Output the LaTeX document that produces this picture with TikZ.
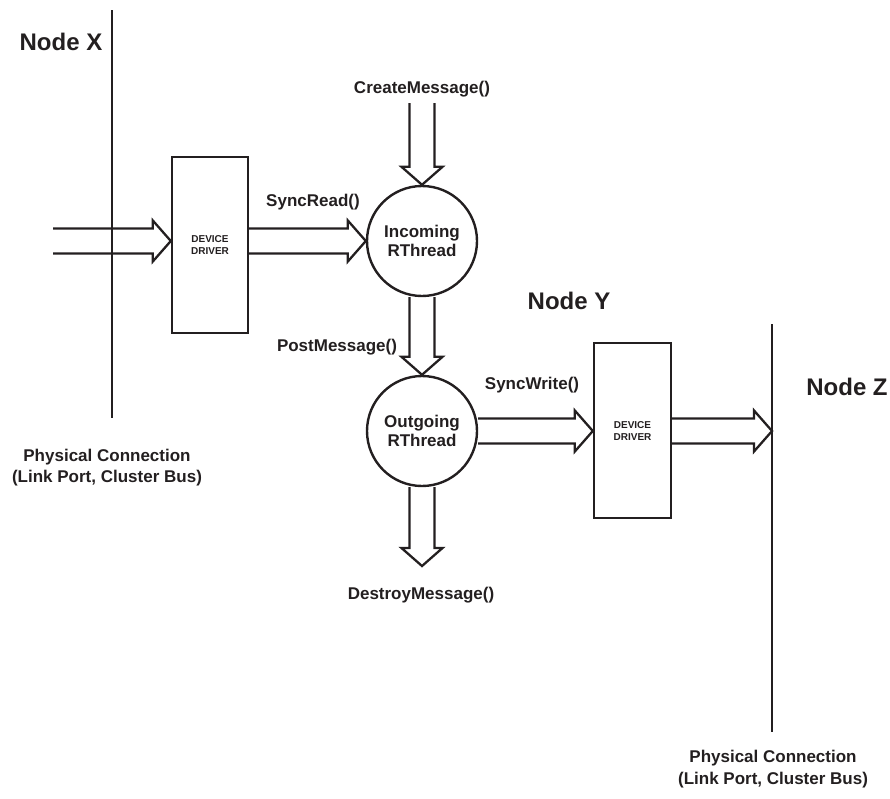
\documentclass[tikz,border=0pt]{standalone}
\usepackage{fontspec}
\setmainfont{Liberation Sans}
\usetikzlibrary{calc}
\definecolor{ink}{RGB}{35,31,32}
\tikzset{
  lbl/.style={font=\bfseries\fontsize{17}{21.5}\selectfont, text=ink, align=center, inner sep=0pt},
  big/.style={font=\bfseries\fontsize{24}{28}\selectfont, text=ink, inner sep=0pt},
  small/.style={font=\bfseries\fontsize{10}{12}\selectfont, text=ink, align=center},
  drvbox/.style={draw=ink, line width=2.4pt, minimum width=76pt, minimum height=176pt, small},
  thread/.style={draw=ink, line width=2.4pt, circle, minimum size=110pt, inner sep=0pt, align=center,
    font=\bfseries\fontsize{17}{19}\selectfont, text=ink},
  bus/.style={draw=ink, line width=2.6pt},
  hollow/.style={draw=ink, line width=2.3pt, line join=miter, to path={
    let \p1=($(\tikztotarget)-(\tikztostart)$), \n1={veclen(\x1,\y1)} in
    ($(\tikztostart)+({-12.5*(\y1)/(\n1)*1pt},{12.5*(\x1)/(\n1)*1pt})$)
    -- ($(\tikztotarget)+({(-18*(\x1)-12.5*(\y1))/(\n1)*1pt},{(-18*(\y1)+12.5*(\x1))/(\n1)*1pt})$)
    -- ($(\tikztotarget)+({(-18*(\x1)-20.5*(\y1))/(\n1)*1pt},{(-18*(\y1)+20.5*(\x1))/(\n1)*1pt})$)
    -- (\tikztotarget)
    -- ($(\tikztotarget)+({(-18*(\x1)+20.5*(\y1))/(\n1)*1pt},{(-18*(\y1)-20.5*(\x1))/(\n1)*1pt})$)
    -- ($(\tikztotarget)+({(-18*(\x1)+12.5*(\y1))/(\n1)*1pt},{(-18*(\y1)-12.5*(\x1))/(\n1)*1pt})$)
    -- ($(\tikztostart)+({12.5*(\y1)/(\n1)*1pt},{-12.5*(\x1)/(\n1)*1pt})$)
  }}
}
\begin{document}
\begin{tikzpicture}[x=1pt,y=-1pt]
\useasboundingbox (0,0) rectangle (890,798);

% physical connections
\coordinate (xtop) at (112,10);
\coordinate (xbot) at (112,418);
\coordinate (ztop) at (772,324);
\coordinate (zbot) at (772,732);
\draw[bus] (xtop) -- (xbot);
\draw[bus] (ztop) -- (zbot);

% nodes
\node[drvbox] (dd1) at (210,245) {DEVICE\\DRIVER};
\node[drvbox, minimum width=77pt, minimum height=175pt] (dd2) at (632.5,430.5) {DEVICE\\DRIVER};
\node[thread] (inc) at (422,241) {Incoming\\RThread};
\node[thread] (out) at (422,431) {Outgoing\\RThread};

% labels
\node[big] (nx) at (61,42) {Node X};
\node[big] (ny) at (569,301) {Node Y};
\node[big] (nz) at (847,387) {Node Z};
\node[lbl] (lcm) at (422,89) {CreateMessage()};
\node[lbl] (lsr) at (313,202) {SyncRead()};
\node[lbl] (lpm) at (337,347) {PostMessage()};
\node[lbl] (lsw) at (532,385) {SyncWrite()};
\node[lbl] (ldm) at (421,595) {DestroyMessage()};
\node[lbl] (pc1) at (107,467.5) {Physical Connection\\(Link Port, Cluster Bus)};
\node[lbl] (pc2) at (773,769) {Physical Connection\\(Link Port, Cluster Bus)};

% free ends
\coordinate (inl) at (53,241);
\coordinate (cmtop) at (422,103);
\coordinate (dmend) at (422,566);

% hollow arrows
\draw[hollow] (inl) to (dd1.west |- inl);
\draw[hollow] (dd1.east |- inc.west) to (inc.west);
\draw[hollow] (cmtop) to (inc.north);
\draw[hollow] (inc.south) to (out.north);
\draw[hollow] (out.east) to (dd2.west |- out.east);
\draw[hollow] (dd2.east |- out.east) to (ztop |- out.east);
\draw[hollow] (out.south) to (dmend);
\end{tikzpicture}
\end{document}
